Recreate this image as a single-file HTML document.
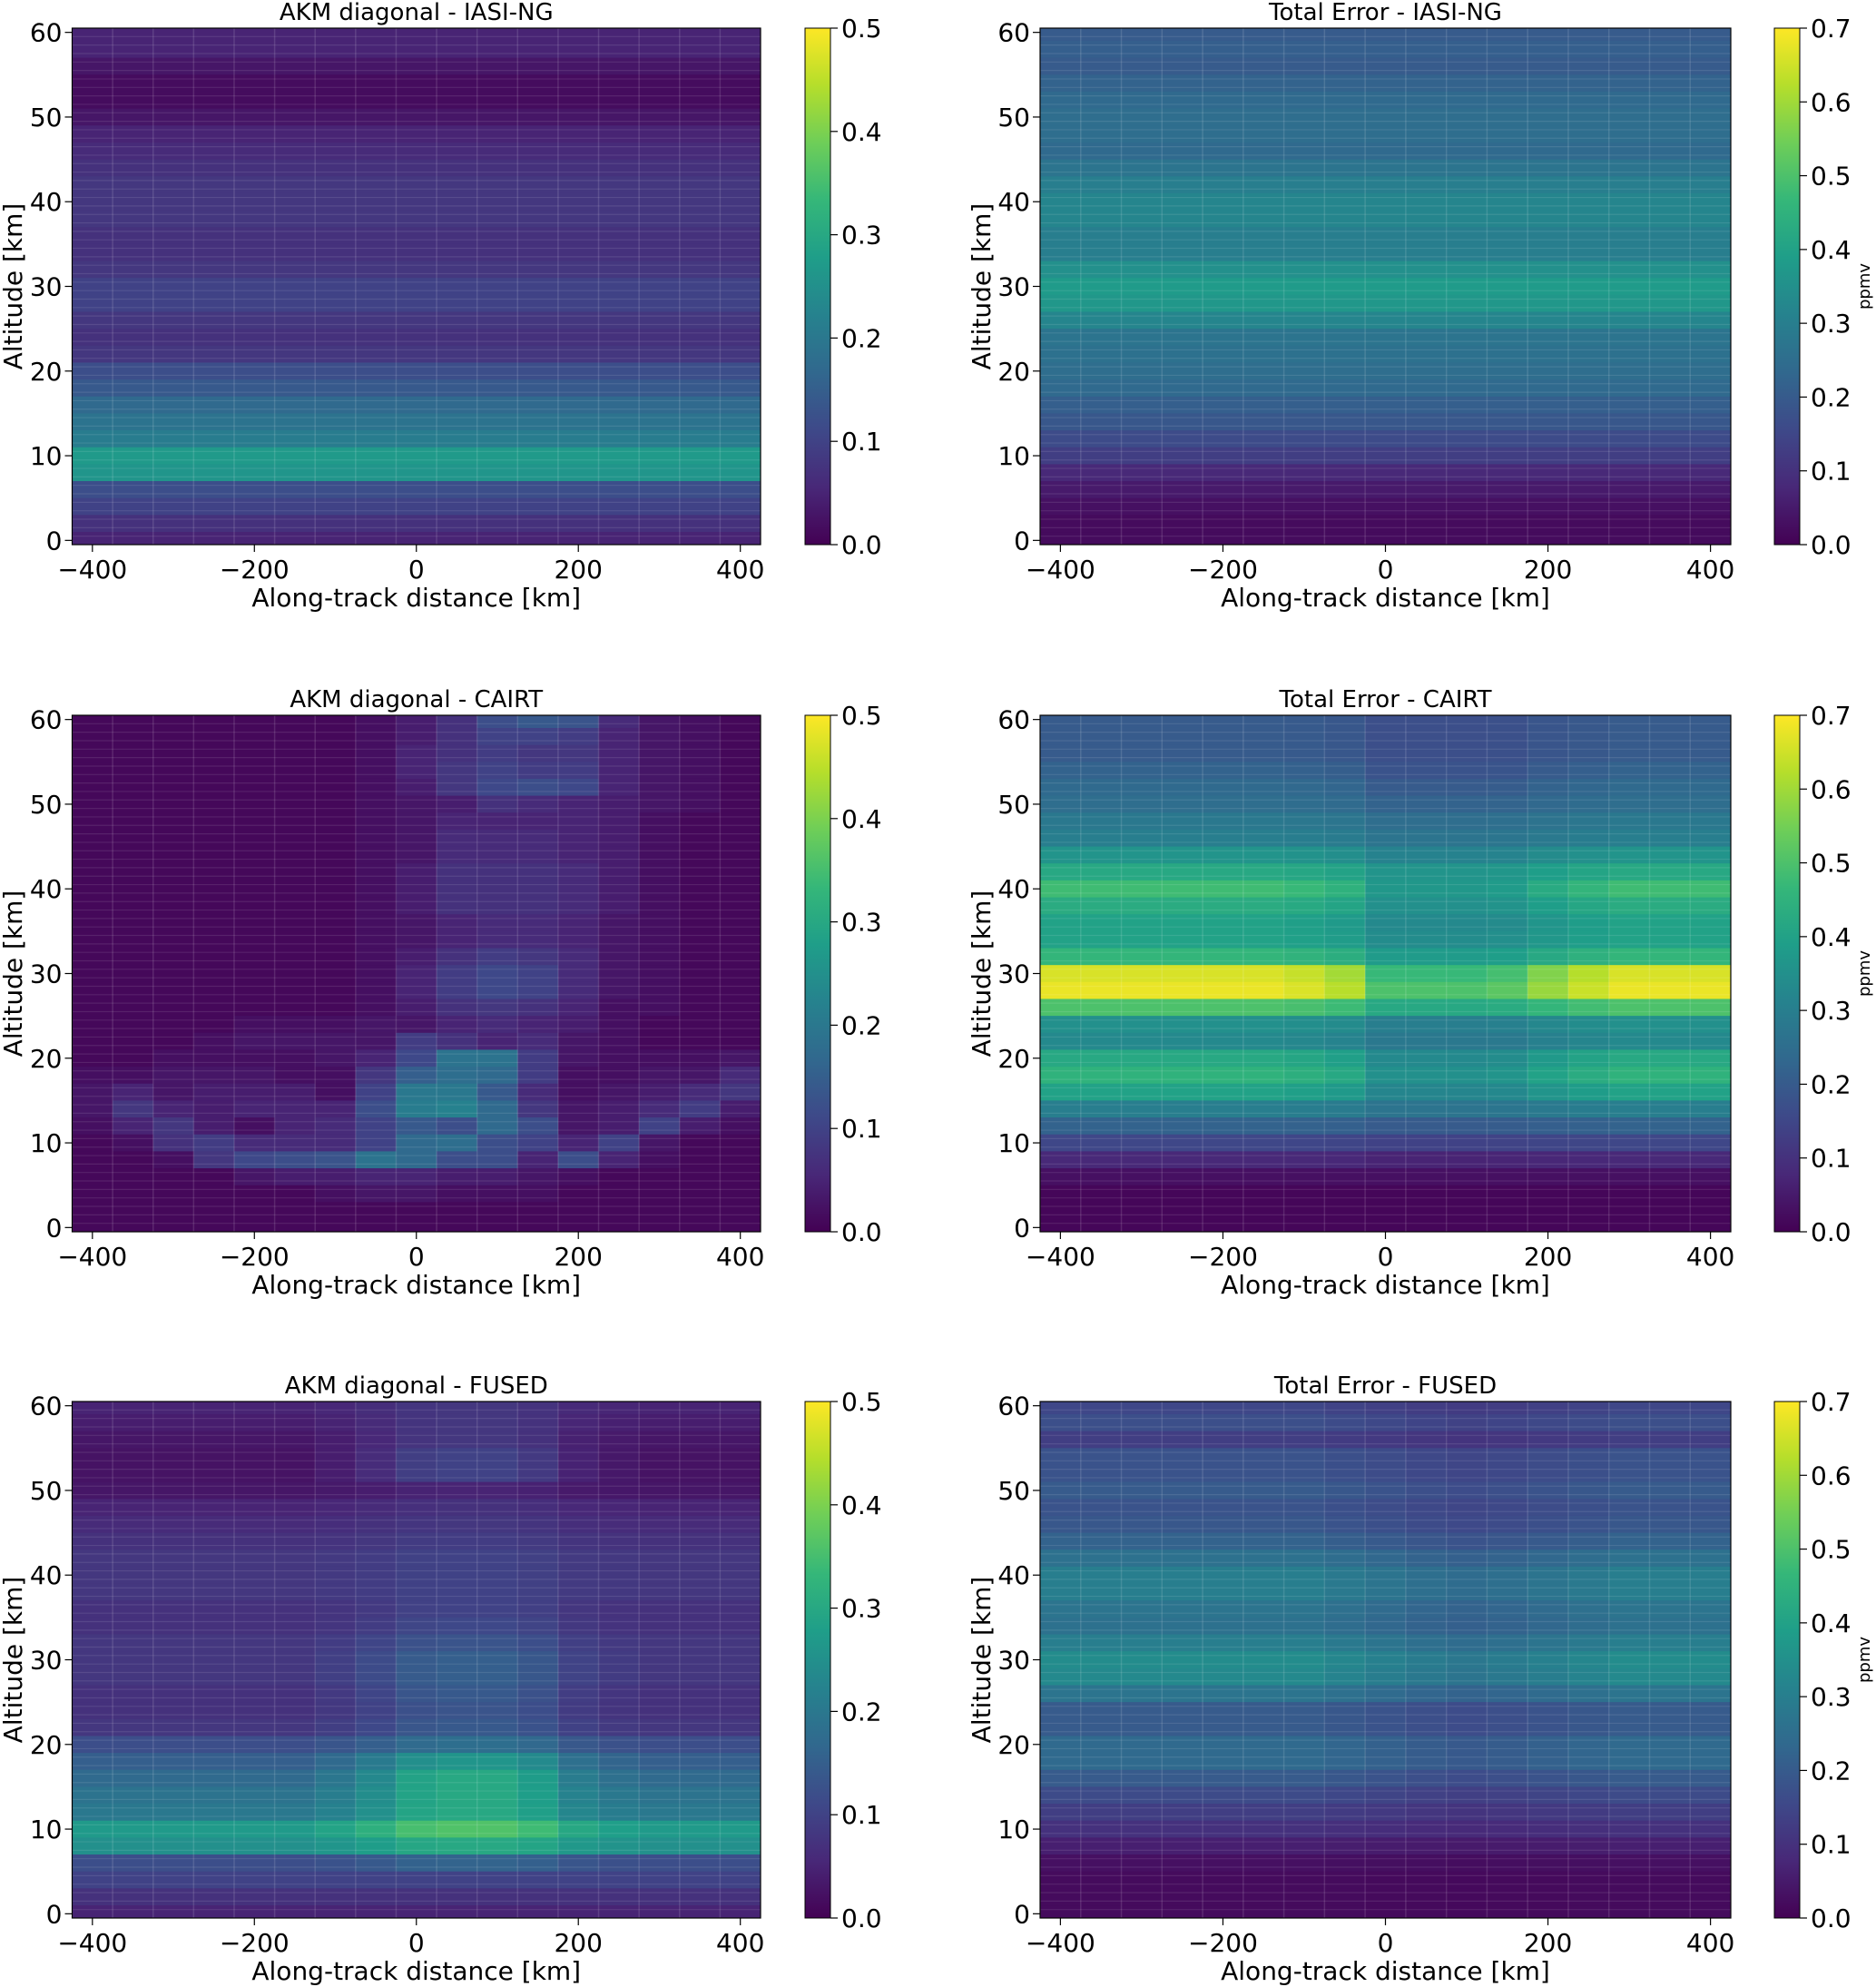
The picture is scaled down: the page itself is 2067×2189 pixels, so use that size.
<!DOCTYPE html>
<html><head><meta charset="utf-8"><style>
html,body{margin:0;padding:0;background:#fff;}
svg{display:block;font-family:"DejaVu Sans","Liberation Sans",sans-serif;}
</style></head><body>
<svg id="fig" width="2067" height="2189" viewBox="0 0 2067 2189" xmlns="http://www.w3.org/2000/svg"></svg>
<script>
// ---------- data ----------
const xCenters = [-400,-350,-300,-250,-200,-150,-100,-50,0,50,100,150,200,250,300,350,400];
const altitudes = [60,58,56,54,52,50,48,46,44,42,40,38,36,34,32,30,28,26,24,22,20,18,16,14,12,10,8,6,4,2,0];
const xTicks = [-400,-200,0,200,400];
const yTicks = [0,10,20,30,40,50,60];
const akmTicks = [0,0.1,0.2,0.3,0.4,0.5];
const errTicks = [0,0.1,0.2,0.3,0.4,0.5,0.6,0.7];

const iasiAkmProfile = [.05,.05,.03,.015,.015,.03,.05,.06,.07,.08,.08,.08,.07,.07,.08,.1,.1,.08,.07,.08,.12,.14,.17,.19,.21,.27,.26,.12,.1,.07,.05];
const iasiErrProfile = [.2,.21,.2,.22,.24,.25,.25,.24,.27,.3,.32,.32,.3,.3,.35,.38,.37,.32,.27,.26,.25,.24,.21,.19,.16,.13,.08,.05,.03,.02,.02];

const cairtAkm = [
[.01,.01,.01,.01,.01,.01,.01,.02,.04,.07,.12,.14,.13,.06,.03,.02,.01],
[.01,.01,.01,.01,.01,.01,.01,.02,.04,.07,.1,.1,.09,.05,.03,.02,.01],
[.01,.01,.01,.01,.01,.01,.01,.02,.05,.07,.09,.08,.08,.05,.03,.02,.01],
[.01,.01,.01,.01,.01,.01,.01,.02,.05,.08,.1,.09,.09,.05,.03,.02,.01],
[.01,.01,.01,.01,.01,.01,.01,.02,.04,.08,.11,.12,.11,.05,.03,.02,.01],
[.01,.01,.01,.01,.01,.01,.01,.02,.03,.04,.07,.06,.05,.04,.03,.02,.01],
[.01,.01,.01,.01,.01,.01,.01,.02,.03,.05,.05,.05,.05,.04,.02,.01,.01],
[.01,.01,.01,.01,.01,.01,.01,.02,.03,.06,.06,.06,.05,.04,.02,.01,.01],
[.01,.01,.01,.01,.01,.01,.01,.02,.03,.06,.06,.06,.05,.04,.02,.01,.01],
[.01,.01,.01,.01,.01,.01,.01,.02,.04,.07,.07,.07,.06,.04,.02,.01,.01],
[.01,.01,.01,.01,.01,.01,.01,.02,.04,.07,.07,.07,.06,.04,.02,.01,.01],
[.01,.01,.01,.01,.01,.01,.01,.02,.04,.07,.07,.07,.06,.04,.02,.01,.01],
[.01,.01,.01,.01,.01,.01,.01,.02,.03,.05,.06,.06,.05,.03,.02,.01,.01],
[.01,.01,.01,.01,.01,.01,.01,.02,.03,.05,.06,.06,.05,.03,.02,.01,.01],
[.01,.01,.01,.01,.01,.01,.01,.02,.04,.07,.09,.08,.06,.03,.02,.01,.01],
[.01,.01,.01,.01,.01,.01,.01,.02,.05,.09,.11,.1,.06,.03,.02,.01,.01],
[.01,.01,.01,.01,.01,.01,.01,.02,.05,.09,.11,.1,.06,.03,.02,.01,.01],
[.01,.01,.01,.01,.01,.01,.01,.02,.04,.07,.08,.07,.05,.02,.02,.01,.01],
[.01,.01,.01,.01,.02,.02,.02,.03,.03,.05,.06,.05,.04,.02,.01,.01,.01],
[.01,.01,.01,.02,.03,.03,.03,.03,.09,.07,.05,.06,.03,.02,.01,.01,.01],
[.01,.01,.02,.02,.02,.02,.03,.05,.11,.19,.19,.09,.03,.02,.02,.02,.03],
[.02,.02,.03,.03,.03,.02,.02,.08,.15,.18,.17,.09,.02,.02,.03,.03,.06],
[.03,.05,.03,.04,.04,.04,.02,.1,.2,.2,.14,.06,.02,.03,.04,.06,.08],
[.03,.08,.05,.04,.05,.05,.05,.12,.21,.22,.17,.08,.03,.04,.06,.09,.04],
[.02,.05,.08,.04,.02,.05,.06,.1,.14,.12,.17,.12,.03,.04,.1,.04,.02],
[.01,.02,.07,.09,.06,.06,.06,.1,.17,.18,.12,.1,.05,.1,.03,.01,.01],
[.01,.01,.02,.08,.11,.12,.13,.19,.17,.12,.12,.05,.12,.05,.02,.01,.01],
[.01,.01,.01,.01,.03,.04,.04,.05,.05,.04,.04,.03,.02,.01,.01,.01,.01],
[.01,.01,.01,.01,.01,.01,.02,.03,.03,.02,.02,.02,.01,.01,.01,.01,.01],
[.01,.01,.01,.01,.01,.01,.01,.01,.01,.01,.01,.01,.01,.01,.01,.01,.01],
[.01,.01,.01,.01,.01,.01,.01,.01,.01,.01,.01,.01,.01,.01,.01,.01,.01]
];

const cairtErrEdge = [.2,.2,.2,.22,.24,.25,.28,.3,.36,.42,.48,.43,.4,.4,.46,.66,.68,.5,.35,.33,.42,.45,.4,.3,.22,.15,.08,.03,.01,.01,.01];
const cairtErrCenter = [.17,.17,.17,.18,.2,.22,.25,.27,.31,.36,.37,.35,.33,.34,.38,.47,.5,.42,.3,.28,.33,.35,.32,.27,.2,.14,.07,.03,.01,.01,.01];
const cairtErrCenterWeight = [0,0,0,0,0,0,.1,.3,1,1,1,.9,.5,.2,0,0,0];

const fusedAkmEdge = [.05,.04,.03,.025,.025,.03,.05,.06,.07,.08,.08,.08,.07,.07,.08,.08,.08,.07,.07,.08,.12,.15,.17,.19,.2,.27,.25,.12,.1,.07,.05];
const fusedAkmCenter = [.08,.08,.08,.1,.1,.05,.07,.08,.09,.1,.1,.1,.1,.11,.13,.15,.15,.14,.13,.14,.18,.26,.3,.3,.3,.36,.3,.16,.1,.07,.05];
const fusedAkmCenterWeight = [0,0,0,0,0,0,.2,.5,.9,1,1,.8,.3,.1,0,0,0];

const fusedErrProfile = [.15,.17,.13,.18,.18,.2,.18,.19,.22,.26,.3,.3,.27,.26,.3,.34,.33,.27,.2,.2,.24,.24,.2,.16,.13,.1,.06,.03,.02,.02,.02];
const fusedErrColFactor = [1,1,1,1,1,1,1,.95,.9,.85,.82,.85,.9,.95,1,1,1];

// ---------- rendering ----------
const NS='http://www.w3.org/2000/svg';
const svg=document.getElementById('fig');
function mk(tag,attrs,parent){const e=document.createElementNS(NS,tag);for(const k in attrs)e.setAttribute(k,attrs[k]);(parent||svg).appendChild(e);return e;}
const vir=['#440154','#482878','#3e4989','#31688e','#26828e','#1f9e89','#35b779','#6ece58','#b5de2b','#fde725'];
function hex(h){return [parseInt(h.slice(1,3),16),parseInt(h.slice(3,5),16),parseInt(h.slice(5,7),16)];}
function viridis(t){t=Math.max(0,Math.min(1,t));const p=t*9;const i=Math.min(8,Math.floor(p));const f=p-i;const a=hex(vir[i]),b=hex(vir[i+1]);return 'rgb('+a.map((v,k)=>Math.round(v+(b[k]-v)*f)).join(',')+')';}

const colsL=[{px:79.5,pw:758.5,cbx:887,ylx:14,ppmv:false},{px:1146,pw:761,cbx:1955,ylx:1081,ppmv:true}];
const rowsT=[31,788,1544]; const PH=569;

const panels=[
 {name:'akm-iasi-ng',title:'AKM diagonal - IASI-NG',c:0,r:0,vmax:.5,ticks:akmTicks,val:(i,j)=>iasiAkmProfile[i]},
 {name:'error-iasi-ng',title:'Total Error - IASI-NG',c:1,r:0,vmax:.7,ticks:errTicks,val:(i,j)=>iasiErrProfile[i]},
 {name:'akm-cairt',title:'AKM diagonal - CAIRT',c:0,r:1,vmax:.5,ticks:akmTicks,val:(i,j)=>cairtAkm[i][j]},
 {name:'error-cairt',title:'Total Error - CAIRT',c:1,r:1,vmax:.7,ticks:errTicks,val:(i,j)=>cairtErrEdge[i]*(1-cairtErrCenterWeight[j])+cairtErrCenter[i]*cairtErrCenterWeight[j]},
 {name:'akm-fused',title:'AKM diagonal - FUSED',c:0,r:2,vmax:.5,ticks:akmTicks,val:(i,j)=>fusedAkmEdge[i]*(1-fusedAkmCenterWeight[j])+fusedAkmCenter[i]*fusedAkmCenterWeight[j]},
 {name:'error-fused',title:'Total Error - FUSED',c:1,r:2,vmax:.7,ticks:errTicks,val:(i,j)=>fusedErrProfile[i]*fusedErrColFactor[j]}
];

let gid=0;
panels.forEach(P=>{
  const L=colsL[P.c], py=rowsT[P.r], px=L.px, pw=L.pw;
  const xs=v=>px+(v+425)/850*pw;
  const ys=v=>py+(60.5-v)/61*PH;
  const g=mk('g',{});
  
  
  const cid='clip'+(gid++);
  const cp=mk('clipPath',{id:cid},g); mk('rect',{x:px,y:py,width:pw,height:PH},cp);
  const cells=mk('g',{'clip-path':'url(#'+cid+')'},g);
  
  
  altitudes.forEach((a,i)=>{xCenters.forEach((xc,j)=>{
    const x0=xs(xc-25),x1=xs(xc+25),y0=ys(Math.min(60.5,a+1)),y1=ys(Math.max(-0.5,a-1));
    const r=mk('rect',{x:x0.toFixed(2),y:y0.toFixed(2),width:(x1-x0+0.6).toFixed(2),height:(y1-y0+0.6).toFixed(2),fill:viridis(P.val(i,j)/P.vmax)},cells);
    
    
  });});
  for(let k=0;k<=17;k++){const x=xs(-425+50*k);mk('line',{x1:x,x2:x,y1:py,y2:py+PH,stroke:'#fff','stroke-opacity':.13,'stroke-width':1.5},cells);}
  for(let h=0;h<=61;h++){const y=ys(-0.5+h);mk('line',{x1:px,x2:px+pw,y1:y,y2:y,stroke:'#fff','stroke-opacity':.1,'stroke-width':1.2},cells);}
  const fr=mk('rect',{x:px,y:py,width:pw,height:PH,fill:'none',stroke:'#000','stroke-width':1.2},g);
  
  
  const t=mk('text',{x:px+pw/2,y:py-9,'text-anchor':'middle','font-size':26},g); t.textContent=P.title;
  
  
  xTicks.forEach(v=>{const x=xs(v);mk('line',{x1:x,x2:x,y1:py+PH,y2:py+PH+8,stroke:'#000','stroke-width':1.2},g);
    const tt=mk('text',{x:x,y:py+PH+37,'text-anchor':'middle','font-size':28},g);tt.textContent=(v<0?'\u2212'+(-v):v);
    
    });
  const xl=mk('text',{x:px+pw/2,y:py+PH+68,'text-anchor':'middle','font-size':28},g);xl.textContent='Along-track distance [km]';
  
  
  yTicks.forEach(v=>{const y=ys(v);mk('line',{x1:px-8,x2:px,y1:y,y2:y,stroke:'#000','stroke-width':1.2},g);
    const tt=mk('text',{x:px-11,y:y+10,'text-anchor':'end','font-size':28},g);tt.textContent=v;
    
    });
  const yl=mk('text',{x:0,y:0,'text-anchor':'middle','font-size':28,transform:'translate('+(L.ylx+10)+','+(py+PH/2)+') rotate(-90)'},g);yl.textContent='Altitude [km]';
  
  
  const cb=mk('g',{},g);
  
  
  const gradId='grad'+gid;
  const lg=mk('linearGradient',{id:gradId,x1:0,y1:1,x2:0,y2:0},cb);
  vir.forEach((c,k)=>mk('stop',{offset:(k/9).toFixed(3),'stop-color':c},lg));
  const cbw=28;
  mk('rect',{x:L.cbx,y:py,width:cbw,height:PH,fill:'url(#'+gradId+')',stroke:'#000','stroke-width':1},cb);
  P.ticks.forEach(v=>{const y=py+PH-v/P.vmax*PH;mk('line',{x1:L.cbx+cbw,x2:L.cbx+cbw+8,y1:y,y2:y,stroke:'#000','stroke-width':1.2},cb);
    const tt=mk('text',{x:L.cbx+cbw+12,y:y+10,'font-size':28},cb);tt.textContent=v.toFixed(1);
    
    });
  if(L.ppmv){const u=mk('text',{x:0,y:0,'text-anchor':'middle','font-size':18,transform:'translate(2060,'+(py+PH/2)+') rotate(-90)'},cb);u.textContent='ppmv';
    
    }
});
</script>
</body></html>
